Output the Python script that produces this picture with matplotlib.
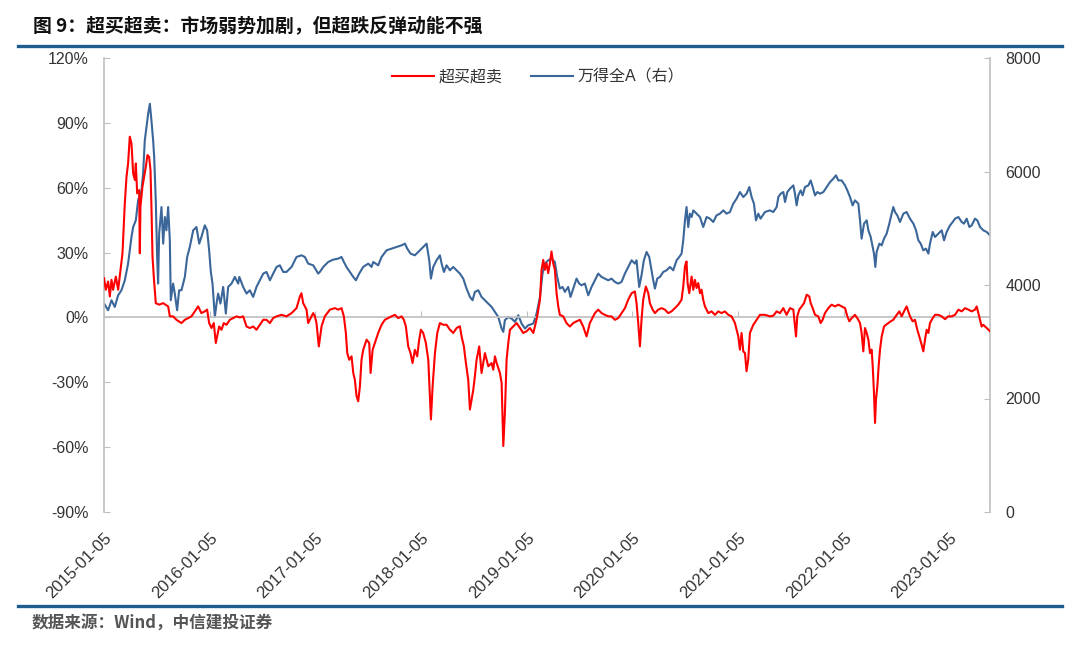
import matplotlib
matplotlib.use("Agg")
import matplotlib.pyplot as plt
from matplotlib.ticker import FuncFormatter, FixedLocator

plt.rcParams['font.family'] = ['Liberation Sans', 'Noto Sans CJK SC', 'DejaVu Sans']

# ---------------- data (x = years elapsed since 2015-01-05) ----------------
tick_labels = ['2015-01-05', '2016-01-05', '2017-01-05', '2018-01-05', '2019-01-05',
               '2020-01-05', '2021-01-05', '2022-01-05', '2023-01-05']
tick_pos = [0, 1, 2, 3, 4, 5, 6, 7, 8]

red_t = [0.000, 0.017, 0.039, 0.055, 0.071, 0.086, 0.112, 0.134, 0.156, 0.175, 0.197, 0.213,
         0.228, 0.244, 0.260, 0.276, 0.292, 0.301, 0.314, 0.333, 0.339, 0.345, 0.364, 0.380,
         0.396, 0.411, 0.427, 0.440, 0.449, 0.459, 0.471, 0.490, 0.522, 0.560, 0.607, 0.623,
         0.654, 0.686, 0.733, 0.765, 0.796, 0.828, 0.860, 0.891, 0.922, 0.954, 0.976, 0.995,
         1.017, 1.039, 1.058, 1.071, 1.090, 1.112, 1.134, 1.159, 1.191, 1.222, 1.254, 1.286,
         1.317, 1.349, 1.380, 1.412, 1.443, 1.475, 1.507, 1.538, 1.570, 1.601, 1.633, 1.680,
         1.727, 1.775, 1.822, 1.854, 1.869, 1.885, 1.917, 1.932, 1.948, 1.980, 1.996, 2.011,
         2.033,
         2.059, 2.090, 2.138, 2.185, 2.217, 2.248, 2.270, 2.289, 2.302, 2.321, 2.343, 2.359,
         2.374, 2.390, 2.406, 2.422, 2.437, 2.453, 2.485, 2.510, 2.523, 2.542, 2.564, 2.595,
         2.627, 2.658, 2.690, 2.721, 2.753, 2.785, 2.816, 2.838, 2.857, 2.879, 2.901, 2.920,
         2.942, 2.964, 2.983, 2.999, 3.021, 3.046, 3.069, 3.084, 3.094, 3.110, 3.132, 3.154,
         3.179, 3.211, 3.242, 3.274, 3.305, 3.337, 3.368, 3.384, 3.406, 3.425, 3.447, 3.463,
         3.479, 3.495, 3.510, 3.526, 3.551, 3.573, 3.605, 3.637, 3.668, 3.684, 3.700, 3.716,
         3.747, 3.763, 3.779, 3.794, 3.810, 3.826, 3.842, 3.873, 3.905, 3.936, 3.968, 3.999,
         4.031, 4.063, 4.078, 4.100, 4.126,
         4.141, 4.157, 4.172, 4.188, 4.204, 4.220, 4.235, 4.251, 4.267, 4.283, 4.299, 4.314,
         4.346, 4.377, 4.409, 4.441, 4.472, 4.504, 4.535, 4.567, 4.583, 4.598, 4.614, 4.646,
         4.677, 4.709, 4.740, 4.772, 4.803, 4.835, 4.867, 4.898, 4.930, 4.961, 4.993, 5.024,
         5.040, 5.056, 5.072, 5.087, 5.103, 5.128, 5.151, 5.166, 5.192, 5.214, 5.245, 5.277,
         5.308, 5.340, 5.371, 5.403, 5.435, 5.466, 5.482, 5.498, 5.513, 5.523, 5.539, 5.561,
         5.577, 5.592, 5.608, 5.624, 5.640, 5.655, 5.671, 5.687, 5.719, 5.750, 5.782, 5.813,
         5.845, 5.876, 5.908, 5.939, 5.971, 6.003, 6.018, 6.034, 6.050, 6.066, 6.081, 6.097,
         6.113, 6.145, 6.176, 6.208, 6.255, 6.302,
         6.334, 6.366, 6.397, 6.429, 6.460, 6.492, 6.524, 6.549, 6.561, 6.580, 6.602, 6.625,
         6.650, 6.675, 6.688, 6.707, 6.729, 6.760, 6.782, 6.801, 6.823, 6.855, 6.886, 6.918,
         6.950, 6.981, 7.013, 7.035, 7.054, 7.076, 7.107, 7.129, 7.155, 7.170, 7.186, 7.202,
         7.218, 7.234, 7.249, 7.265, 7.275, 7.287, 7.297, 7.306, 7.319, 7.331, 7.344, 7.360,
         7.382, 7.401, 7.423, 7.445, 7.470, 7.502, 7.527, 7.549, 7.571, 7.596, 7.612, 7.628,
         7.653, 7.675, 7.697, 7.716, 7.738, 7.754, 7.770, 7.786, 7.802, 7.817, 7.843, 7.865,
         7.896, 7.928, 7.959, 7.991, 8.022, 8.054, 8.086, 8.117, 8.149, 8.180, 8.212, 8.243,
         8.259, 8.275, 8.291, 8.306, 8.322, 8.338, 8.354, 8.385]

red_v = [18.2, 12.8, 16.6, 9.7, 17.4, 12.8, 18.9, 12.8, 22.0, 29.7, 52.8, 65.1,
         71.2, 83.6, 80.5, 66.6, 63.6, 71.2, 57.4, 58.9, 29.7, 51.2, 60.5, 65.1,
         69.7, 75.1, 74.3, 68.2, 51.2, 28.2, 18.9, 6.6, 5.9, 6.6, 5.1, 0.5,
         0.5, -1.1, -2.6, -1.1, -0.3, 0.5, 2.8, 5.1, 2.0, 2.8, 3.6, -2.6,
         -4.9, -2.6, -11.8, -8.8, -4.2, -5.7, -2.6, -3.4, -1.1, -0.3, 0.5, 0.0,
         0.5, -4.2, -4.9, -4.2, -5.7, -3.4, -1.1, -1.1, -2.6, -0.3, 0.5, 1.2,
         0.5, 2.0, 4.3, 9.7, 11.2, 6.6, 3.6, -2.6, -1.1, 2.0, 0.5, -2.6,
         -13.4,
         -4.1, 0.5, 3.6, 4.3, 3.6, 4.3, 0.5, -7.2, -16.5, -19.6, -18.0, -25.7,
         -28.8, -36.4, -38.8, -31.8, -19.6, -15.0, -10.3, -11.8, -25.7, -15.0, -11.8, -7.2,
         -3.4, -1.1, -0.3, 0.5, 1.2, -0.3, 0.5, -1.1, -4.2, -13.4, -16.5, -21.1,
         -15.0, -18.0, -10.3, -5.7, -7.2, -11.8, -19.6, -36.5, -47.2, -31.8, -16.5, -7.2,
         -2.6, -3.4, -3.4, -5.7, -7.2, -4.9, -4.1, -8.8, -13.4, -21.1, -28.8, -42.6,
         -38.0, -33.4, -27.2, -19.6, -13.4, -25.7, -16.5, -22.6, -21.1, -24.2, -18.0, -21.1,
         -25.7, -30.3, -59.5, -44.2, -19.6, -11.8, -5.7, -4.2, -2.6, -4.9, -7.2, -6.4,
         -4.9, -7.2, -4.2, 0.5, 8.2,
         22.0, 26.6, 22.0, 25.1, 20.5, 25.1, 30.5, 25.1, 22.0, 11.2, 5.1, 1.2,
         0.5, -2.6, -4.2, -2.6, -1.8, -1.1, -4.2, -8.8, -5.7, -2.6, -1.1, 2.0,
         3.6, 2.0, 1.2, 0.5, 0.5, -1.1, -0.3, 2.0, 4.3, 8.2, 11.2, 12.0,
         6.6, -2.6, -13.4, -1.1, 8.2, 14.3, 11.2, 6.6, 3.6, 2.0, 3.6, 4.3,
         3.6, 2.0, 2.8, 4.3, 5.9, 8.2, 14.3, 23.6, 25.9, 15.9, 11.2, 18.9,
         12.8, 17.4, 13.6, 15.9, 11.2, 12.8, 8.2, 5.1, 2.0, 2.8, 1.2, 2.8,
         2.0, 2.8, 1.2, 0.5, -2.6, -8.8, -14.9, -7.2, -15.7, -16.5, -24.9, -19.5,
         -7.2, -3.4, -1.1, 1.2, 1.2, 0.5,
         0.8, 2.8, 2.0, 4.3, 1.2, 4.3, 3.6, -8.8, 0.5, 3.6, 5.1, 6.6,
         10.5, 9.7, 6.6, 4.3, 1.2, 0.5, -2.6, -1.1, 2.0, 4.3, 5.9, 5.1,
         5.9, 5.1, 4.3, 0.5, -1.8, -0.3, 1.2, -0.3, -2.6, -7.2, -15.7, -4.9,
         -7.2, -10.3, -16.5, -14.9, -22.6, -34.9, -48.8, -38.0, -31.8, -22.6, -14.9, -8.8,
         -4.2, -3.4, -2.6, -1.8, -1.1, 1.2, 2.8, 0.5, 2.8, 5.1, 2.8, 0.5,
         -1.8, -1.1, -5.7, -8.8, -12.6, -15.7, -10.3, -5.7, -7.2, -2.6, -0.3, 1.2,
         1.2, 0.5, -0.8, 0.5, 0.5, 1.2, 3.6, 2.8, 4.3, 3.6, 2.8, 3.6,
         5.1, 2.0, -1.1, -4.2, -3.4, -4.2, -4.9, -6.4]

blue_t = [0.000, 0.039, 0.071, 0.102, 0.134, 0.165, 0.197, 0.228, 0.260, 0.276, 0.301, 0.323,
          0.355, 0.370, 0.386, 0.402, 0.418, 0.434, 0.449, 0.465, 0.475, 0.490, 0.503, 0.512,
          0.522, 0.544, 0.560, 0.576, 0.591, 0.607, 0.623, 0.632, 0.654, 0.670, 0.692, 0.711,
          0.733, 0.765, 0.787, 0.812, 0.844, 0.875, 0.901, 0.922, 0.954, 0.976, 0.995, 1.011,
          1.027, 1.049, 1.065, 1.080, 1.102, 1.128, 1.153, 1.175, 1.207, 1.238, 1.270, 1.281,
          1.317, 1.349, 1.380, 1.412, 1.443, 1.475, 1.507, 1.538, 1.570, 1.601, 1.633, 1.664,
          1.696, 1.727, 1.775, 1.822, 1.869, 1.901, 1.932, 1.980, 2.027,
          2.043, 2.075, 2.122, 2.169, 2.217, 2.248, 2.270, 2.295, 2.327, 2.359, 2.384, 2.415,
          2.453, 2.501, 2.532, 2.548, 2.595, 2.627, 2.674, 2.721, 2.769, 2.816, 2.848, 2.870,
          2.901, 2.942, 2.974, 3.005, 3.053, 3.078, 3.094, 3.116, 3.147, 3.179, 3.195, 3.217,
          3.242, 3.274, 3.305, 3.337, 3.368, 3.400, 3.431, 3.463, 3.488, 3.510, 3.542, 3.573,
          3.605, 3.637, 3.668, 3.700, 3.731, 3.763, 3.779, 3.794, 3.826, 3.857, 3.889, 3.921,
          3.952, 3.984, 4.015, 4.063, 4.094, 4.126,
          4.150, 4.172, 4.204, 4.235, 4.267, 4.289, 4.314, 4.340, 4.362, 4.393, 4.415, 4.441,
          4.472, 4.497, 4.519, 4.551, 4.583, 4.614, 4.646, 4.677, 4.709, 4.740, 4.772, 4.803,
          4.835, 4.867, 4.898, 4.930, 4.961, 4.993, 5.024, 5.040, 5.065, 5.087, 5.109, 5.135,
          5.160, 5.182, 5.198, 5.214, 5.236, 5.261, 5.293, 5.324, 5.356, 5.387, 5.419, 5.444,
          5.466, 5.482, 5.498, 5.513, 5.529, 5.545, 5.561, 5.577, 5.608, 5.640, 5.671, 5.703,
          5.734, 5.766, 5.797, 5.829, 5.861, 5.892, 5.924, 5.955, 5.987, 6.018, 6.050, 6.081,
          6.107, 6.129, 6.151, 6.170, 6.192, 6.214, 6.255, 6.302,
          6.334, 6.366, 6.382, 6.404, 6.429, 6.445, 6.467, 6.492, 6.524, 6.539, 6.555, 6.571,
          6.593, 6.612, 6.634, 6.666, 6.688, 6.707, 6.729, 6.751, 6.776, 6.808, 6.839, 6.871,
          6.902, 6.927, 6.950, 6.981, 7.013, 7.035, 7.060, 7.085, 7.107, 7.139, 7.155, 7.170,
          7.193, 7.218, 7.234, 7.256, 7.275, 7.287, 7.300, 7.312, 7.338, 7.360, 7.382, 7.407,
          7.432, 7.454, 7.470, 7.486, 7.508, 7.533, 7.565, 7.596, 7.628, 7.660, 7.685, 7.707,
          7.729, 7.754, 7.779, 7.802, 7.817, 7.843, 7.865, 7.896, 7.928, 7.950, 7.975, 8.007,
          8.032, 8.054, 8.086, 8.117, 8.139, 8.164, 8.190, 8.212, 8.243, 8.265, 8.291, 8.322,
          8.354, 8.385]

blue_v = [3673, 3555, 3731, 3614, 3819, 3907, 4083, 4377, 4846, 5022, 5139, 5492,
          5668, 5961, 6548, 6782, 7017, 7193, 6900, 6548, 6254, 5492, 4494, 4025,
          4905, 5374, 4729, 5198, 4963, 5374, 4787, 3731, 4025, 3849, 3555, 3907,
          3907, 4142, 4494, 4670, 4963, 5022, 4729, 4846, 5051, 4963, 4611, 4230,
          4025, 3438, 3673, 3849, 3673, 3966, 3497, 3966, 4025, 4142, 4025, 4142,
          3966, 3849, 3907, 3790, 3966, 4083, 4201, 4230, 4083, 4201, 4318, 4347,
          4230, 4230, 4318, 4494, 4523, 4494, 4377, 4347, 4201,
          4230, 4318, 4406, 4447, 4465, 4494, 4406, 4318, 4230, 4142, 4083, 4201,
          4318, 4377, 4318, 4406, 4347, 4494, 4611, 4641, 4670, 4699, 4729, 4641,
          4553, 4523, 4582, 4641, 4729, 4435, 4113, 4318, 4435, 4523, 4377, 4230,
          4347, 4259, 4318, 4259, 4201, 4113, 3937, 3790, 3731, 3878, 3907, 3790,
          3731, 3673, 3614, 3526, 3438, 3233, 3174, 3379, 3438, 3409, 3350, 3467,
          3321, 3233, 3291, 3321, 3497, 3790,
          4201, 4377, 4435, 4465, 4406, 4142, 3937, 3966, 3878, 3966, 3790, 3937,
          4113, 4025, 3995, 4025, 3819, 3966, 4083, 4201, 4142, 4113, 4083, 4113,
          4054, 4025, 4054, 4201, 4318, 4435, 4377, 4435, 3966, 4171, 4435, 4582,
          4494, 4259, 4083, 3937, 4113, 4142, 4230, 4259, 4318, 4259, 4435, 4494,
          4553, 4787, 5139, 5374, 5022, 5257, 5198, 5315, 5257, 5198, 5022, 5198,
          5169, 5110, 5227, 5257, 5315, 5257, 5286, 5433, 5521, 5638, 5550, 5609,
          5726, 5550, 5433, 5139, 5257, 5169, 5286, 5315,
          5286, 5374, 5550, 5609, 5638, 5462, 5638, 5697, 5755, 5609, 5403, 5580,
          5667, 5580, 5726, 5755, 5843, 5726, 5580, 5638, 5609, 5638, 5726, 5814,
          5873, 5932, 5843, 5843, 5755, 5667, 5550, 5403, 5491, 5433, 5139, 4817,
          5081, 5139, 4963, 4846, 4670, 4553, 4318, 4582, 4729, 4699, 4817, 4905,
          5081, 5257, 5374, 5286, 5227, 5110, 5257, 5286, 5169, 5081, 4963, 4787,
          4729, 4611, 4641, 4553, 4729, 4934, 4846, 4905, 4963, 4787, 4934, 5051,
          5110, 5169, 5198, 5110, 5081, 5169, 5022, 5051, 5169, 5139, 5022, 4963,
          4934, 4875]

title = '图 9：超买超卖：市场弱势加剧，但超跌反弹动能不强'
source = '数据来源：Wind，中信建投证券'
label_red = '超买超卖'
label_blue = '万得全A（右）'

# ---------------- figure ----------------
W, H = 1080, 658
fig = plt.figure(figsize=(W / 100, H / 100), dpi=100)
ax = fig.add_axes([104 / W, 1 - 512 / H, (990 - 104) / W, (512 - 58) / H])
ax2 = ax.twinx()

RED = '#FF0000'
BLUE = '#3B6699'
GREY = '#BFBFBF'
TXT = '#333333'

l2, = ax2.plot(blue_t, blue_v, color=BLUE, lw=1.5, label=label_blue, zorder=2)
l1, = ax.plot(red_t, red_v, color=RED, lw=1.5, label=label_red, zorder=3)
ax.set_zorder(ax2.get_zorder() + 1)
ax.patch.set_visible(False)

ax.set_xlim(0, 8.385)
ax.set_ylim(-90, 120)
ax.set_yticks(range(-90, 121, 30))
ax.yaxis.set_major_formatter(FuncFormatter(lambda v, p: f'{int(v)}%'))
ax2.set_ylim(0, 8000)
ax2.set_yticks(range(0, 8001, 2000))

for a in (ax, ax2):
    a.spines['top'].set_visible(False)
    a.spines['left'].set_color(GREY)
    a.spines['right'].set_color(GREY)
    a.spines['left'].set_linewidth(1.2)
    a.spines['right'].set_linewidth(1.2)
ax2.spines['bottom'].set_visible(False)
ax2.spines['left'].set_visible(False)
ax.spines['right'].set_visible(False)

# category axis crossing at 0 %
ax.spines['bottom'].set_position(('data', 0))
ax.spines['bottom'].set_color(GREY)
ax.spines['bottom'].set_linewidth(1.2)
ax.xaxis.set_major_locator(FixedLocator(tick_pos))
ax.tick_params(axis='x', direction='in', length=4, color=GREY, labelbottom=False)
ax.tick_params(axis='y', direction='in', length=4, color=GREY, labelsize=11.5,
               labelcolor=TXT, pad=11)
ax2.tick_params(axis='y', direction='in', length=4, color=GREY, labelsize=11.5,
                labelcolor=TXT, pad=11)

# tick labels at the bottom (low position)
sec = ax.secondary_xaxis(0)
sec.set_xticks(tick_pos)
sec.set_xticklabels(tick_labels, rotation=45, ha='right', rotation_mode='anchor',
                    fontsize=12, color=TXT)
sec.tick_params(length=0, pad=13)
sec.spines['bottom'].set_visible(False)

fig.legend(handles=[l1, l2], labels=[label_red, label_blue], loc='center',
           bbox_to_anchor=(538 / W, 1 - 77 / H), ncol=2, frameon=False,
           fontsize=11.5, handlelength=2.6, columnspacing=1.8, handletextpad=0.3,
           labelcolor=TXT)

# title, rules, source
fig.text(33 / W, 1 - 27 / H, title, fontsize=13.6, fontweight='bold', color='#111111',
         ha='left', va='center', family=['Noto Sans CJK SC', 'DejaVu Sans'])
fig.add_artist(plt.Line2D([18 / W, 1062 / W], [1 - 46 / H, 1 - 46 / H],
                          color='#1F5C8E', lw=2.4))
fig.add_artist(plt.Line2D([18 / W, 1062 / W], [1 - 606 / H, 1 - 606 / H],
                          color='#1F5C8E', lw=2.4))
fig.text(32 / W, 1 - 624 / H, source, fontsize=12, style='italic', fontweight='bold',
         color='#555555', ha='left', va='center',
         family=['Noto Sans CJK SC', 'DejaVu Sans'])

fig.savefig('out.png', dpi=100)
